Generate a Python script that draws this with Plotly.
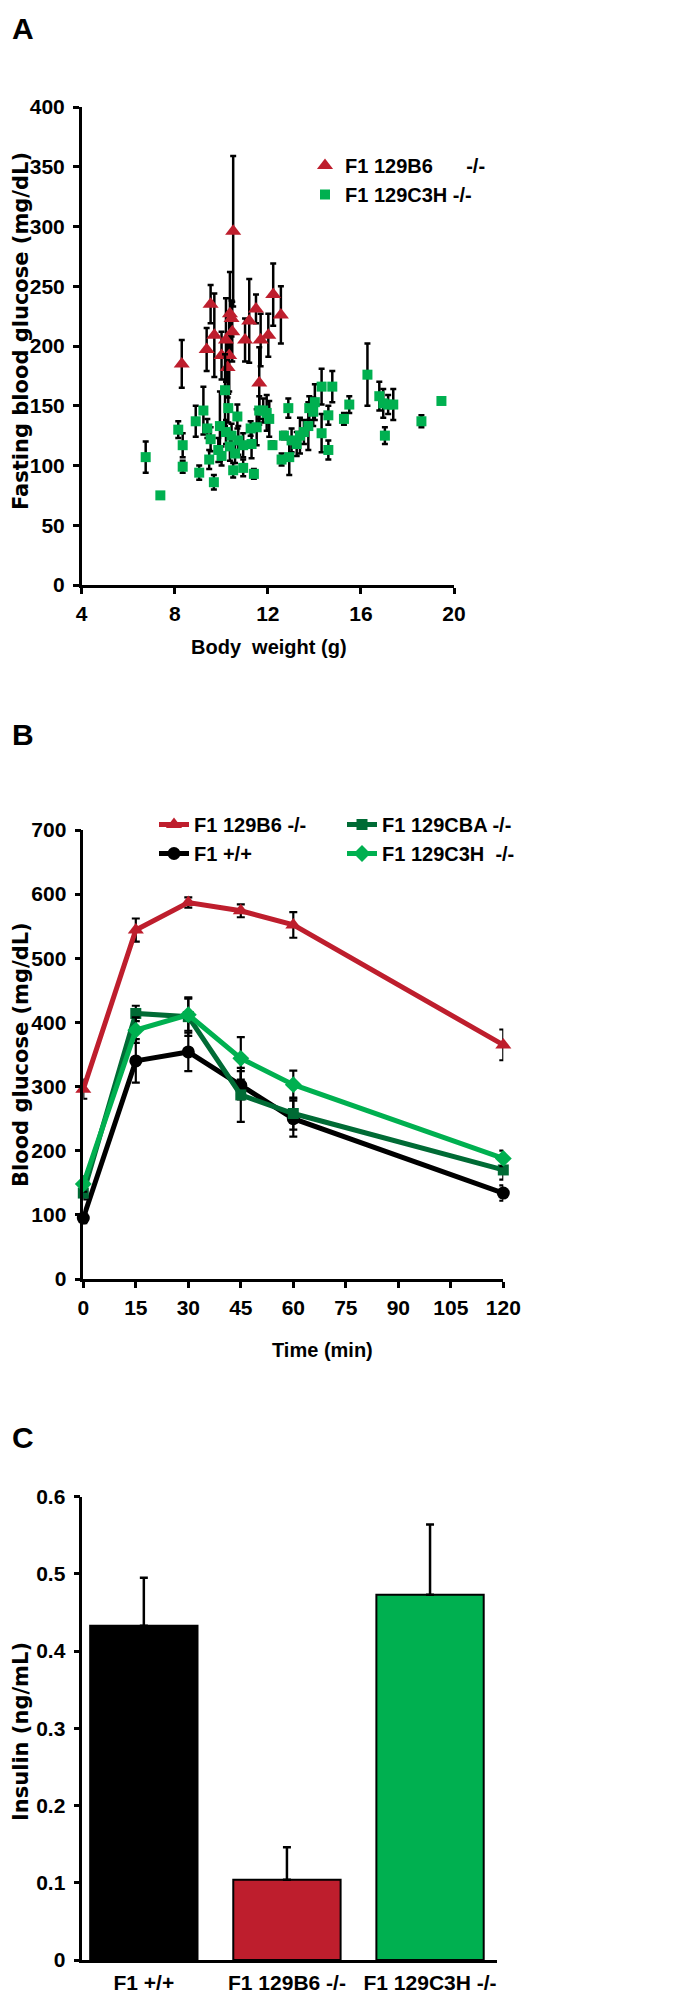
import plotly.graph_objects as go

W, H = 675, 2000
OFF = 8  # the page body adds an 8 px margin around the figure

# ---------------- Panel A data ----------------
b6_weight = [8.30, 9.37, 9.54, 9.70, 10.01, 10.20, 10.34, 10.27, 10.37, 10.44,
             10.47, 10.51, 11.02, 11.20, 11.49, 11.63, 11.69, 12.02, 12.23, 12.56]
b6_glucose = [185, 197, 235, 209, 192, 205, 192, 182, 227, 223,
              212, 296, 205, 221, 231, 169, 205, 209, 243, 226]
b6_err = [20, 18, 16, 35, 20, 35, 30, 25, 35, 15,
          25, 63, 18, 35, 12, 30, 22, 18, 26, 24]

c3h_weight = [6.75, 7.38, 8.15, 8.34, 8.34, 8.90, 9.05, 9.23, 9.40, 9.54,
              9.48, 9.68, 9.87, 9.94, 10.01, 10.16, 10.20, 10.30, 10.37, 10.44,
              10.51, 10.59, 10.69, 10.73, 10.94, 10.94, 11.26, 11.30, 11.40, 11.52,
              11.63, 11.80, 11.95, 12.06, 12.20, 12.59, 12.69, 12.88, 12.92, 13.02,
              13.24, 13.38, 13.55, 13.74, 13.78, 13.95, 14.02, 14.31, 14.31, 14.60,
              14.60, 14.77, 15.27, 15.50, 16.28, 16.79, 16.96, 17.03, 17.17, 17.39,
              18.60, 19.46]
c3h_glucose = [107, 75, 130, 117, 99, 137, 94, 146, 131, 122,
               105, 86, 113, 133, 108, 163, 128, 148, 116, 125,
               96, 110, 141, 121, 98, 117, 131, 118, 93, 132,
               146, 146, 144, 139, 117, 105, 125, 148, 107, 121,
               118, 125, 128, 133, 148, 145, 153, 127, 166, 142,
               113, 166, 139, 151, 176, 158, 152, 125, 151, 151,
               137, 154]
c3h_err = [13, 0, 7, 10, 5, 13, 6, 20, 8, 10,
           8, 6, 10, 29, 8, 30, 10, 12, 12, 10,
           6, 8, 10, 12, 7, 10, 6, 12, 4, 15,
           12, 10, 15, 15, 3, 5, 3, 8, 15, 10,
           10, 15, 10, 20, 10, 12, 15, 16, 15, 8,
           8, 13, 5, 7, 26, 12, 12, 7, 8, 13,
           5, 0]

# ---------------- Panel B data ----------------
time_min = [0, 15, 30, 45, 60, 120]
gtt_b6 = [296, 544, 587, 574, 552, 365]
gtt_b6_err = [15, 18, 8, 10, 20, 24]
gtt_wt = [95, 340, 354, 302, 250, 134]
gtt_wt_err = [8, 34, 30, 22, 28, 12]
gtt_cba = [134, 414, 409, 287, 258, 170]
gtt_cba_err = [10, 12, 30, 42, 25, 15]
gtt_c3h = [148, 388, 412, 344, 303, 188]
gtt_c3h_err = [12, 20, 25, 33, 22, 12]

# ---------------- Panel C data ----------------
insulin_groups = ["F1 +/+", "F1 129B6 -/-", "F1 129C3H -/-"]
insulin_values = [0.433, 0.104, 0.473]
insulin_err = [0.062, 0.042, 0.091]

# ---------------- styles ----------------
RED = "#BE1E2D"
GREEN = "#00B050"
DKGREEN = "#006B35"
BLACK = "#000000"
bar_colors = [BLACK, RED, GREEN]

SANS = "Liberation Sans, Arial, sans-serif"
TICK_FONT = dict(family=SANS, size=21, color="black", weight="bold")
XTITLE_FONT = dict(family=SANS, size=20, color="black", weight="bold")
YTITLE_FONT = dict(family="DejaVu Sans", size=21, color="black", weight="bold")
LETTER_FONT = dict(family=SANS, size=30, color="black", weight="bold")
LEG_FONT = dict(family=SANS, size=20, color="black", weight="bold")


def px(xp):
    return (xp - OFF) / W


def py(yp):
    return 1 - (yp - OFF) / H


fig = go.Figure()

# Panel A
fig.add_trace(go.Scatter(
    x=b6_weight, y=b6_glucose, mode="markers", name="F1 129B6      -/-",
    marker=dict(symbol="triangle-up", size=14, color=RED),
    error_y=dict(type="data", array=b6_err, color=BLACK, thickness=2.5, width=3),
    xaxis="x", yaxis="y", legend="legend", cliponaxis=False))
fig.add_trace(go.Scatter(
    x=c3h_weight, y=c3h_glucose, mode="markers", name="F1 129C3H -/-",
    marker=dict(symbol="square", size=10, color=GREEN),
    error_y=dict(type="data", array=c3h_err, color=BLACK, thickness=2.5, width=3),
    xaxis="x", yaxis="y", legend="legend", cliponaxis=False))


# Panel B
def gtt_trace(y, err, name, color, symbol, size, legend):
    return go.Scatter(
        x=time_min, y=y, mode="lines+markers", name=name,
        line=dict(color=color, width=5),
        marker=dict(symbol=symbol, size=size, color=color),
        error_y=dict(type="data", array=err, color=BLACK, thickness=2.2, width=4),
        xaxis="x2", yaxis="y2", legend=legend, cliponaxis=False)


fig.add_trace(gtt_trace(gtt_b6, gtt_b6_err, "F1 129B6 -/-", RED, "triangle-up", 14, "legend2"))
fig.add_trace(gtt_trace(gtt_wt, gtt_wt_err, "F1 +/+", BLACK, "circle", 13, "legend2"))
fig.add_trace(gtt_trace(gtt_cba, gtt_cba_err, "F1 129CBA -/-", DKGREEN, "square", 11, "legend3"))
fig.add_trace(gtt_trace(gtt_c3h, gtt_c3h_err, "F1 129C3H  -/-", GREEN, "diamond", 13, "legend3"))

# Panel C
fig.add_trace(go.Bar(
    x=insulin_groups, y=insulin_values, width=0.75,
    marker=dict(color=bar_colors, line=dict(color=BLACK, width=2)),
    error_y=dict(type="data", array=insulin_err, arrayminus=[0, 0, 0],
                 color=BLACK, thickness=2.5, width=4),
    xaxis="x3", yaxis="y3", showlegend=False))

axis_common = dict(showline=True, linecolor="black", linewidth=2.5, ticks="outside",
                   ticklen=6, tickwidth=2.5, tickcolor="black", showgrid=False,
                   zeroline=False, tickfont=TICK_FONT, automargin=False, tickangle=0)
x_common = dict(axis_common, ticklabelstandoff=2)
y_common = dict(axis_common, ticklabelstandoff=4)

fig.update_layout(
    width=W, height=H, margin=dict(l=0, r=0, t=0, b=0, autoexpand=False),
    paper_bgcolor="white", plot_bgcolor="white",
    xaxis=dict(domain=[px(81.7), px(454)], anchor="y", range=[4, 20], dtick=4, tick0=4, **x_common),
    yaxis=dict(domain=[py(585), py(107)], anchor="x", range=[0, 400], dtick=50, **y_common),
    xaxis2=dict(domain=[px(83.3), px(503.3)], anchor="y2", range=[0, 120], dtick=15, **x_common),
    yaxis2=dict(domain=[py(1279), py(830)], anchor="x2", range=[0, 700], dtick=100, **y_common),
    xaxis3=dict(domain=[px(82.3), px(497.3)], anchor="y3", range=[-0.43, 2.47],
                **{**x_common, "ticks": ""}),
    yaxis3=dict(domain=[py(1960), py(1496.7)], anchor="x3", range=[0, 0.6], dtick=0.1,
                **y_common),
    legend=dict(x=px(305), y=py(146), xanchor="left", yanchor="top", font=LEG_FONT,
                bgcolor="rgba(0,0,0,0)", tracegroupgap=0, itemwidth=30),
    legend2=dict(x=px(154), y=py(805), xanchor="left", yanchor="top", font=LEG_FONT,
                 bgcolor="rgba(0,0,0,0)", itemwidth=30),
    legend3=dict(x=px(342), y=py(805), xanchor="left", yanchor="top", font=LEG_FONT,
                 bgcolor="rgba(0,0,0,0)", itemwidth=30),
    showlegend=True,
)

annots = [
    dict(text="A", x=px(10), y=py(28), xanchor="left", yanchor="middle", font=LETTER_FONT),
    dict(text="B", x=px(10), y=py(735), xanchor="left", yanchor="middle", font=LETTER_FONT),
    dict(text="C", x=px(10), y=py(1437), xanchor="left", yanchor="middle", font=LETTER_FONT),
    dict(text="Fasting blood glucose (mg/dL)", x=px(21), y=py(331), textangle=-90,
         xanchor="center", yanchor="middle", font=YTITLE_FONT),
    dict(text="Body  weight (g)", x=px(269), y=py(647), xanchor="center", yanchor="middle",
         font=XTITLE_FONT),
    dict(text="Blood glucose (mg/dL)", x=px(21), y=py(1055), textangle=-90,
         xanchor="center", yanchor="middle", font=YTITLE_FONT),
    dict(text="Time (min)", x=px(322), y=py(1350), xanchor="center", yanchor="middle",
         font=XTITLE_FONT),
    dict(text="Insulin (ng/mL)", x=px(21), y=py(1732), textangle=-90,
         xanchor="center", yanchor="middle", font=YTITLE_FONT),
]
for a in annots:
    a.update(xref="paper", yref="paper", showarrow=False)
fig.update_layout(annotations=annots)

fig.write_html("out.html")
